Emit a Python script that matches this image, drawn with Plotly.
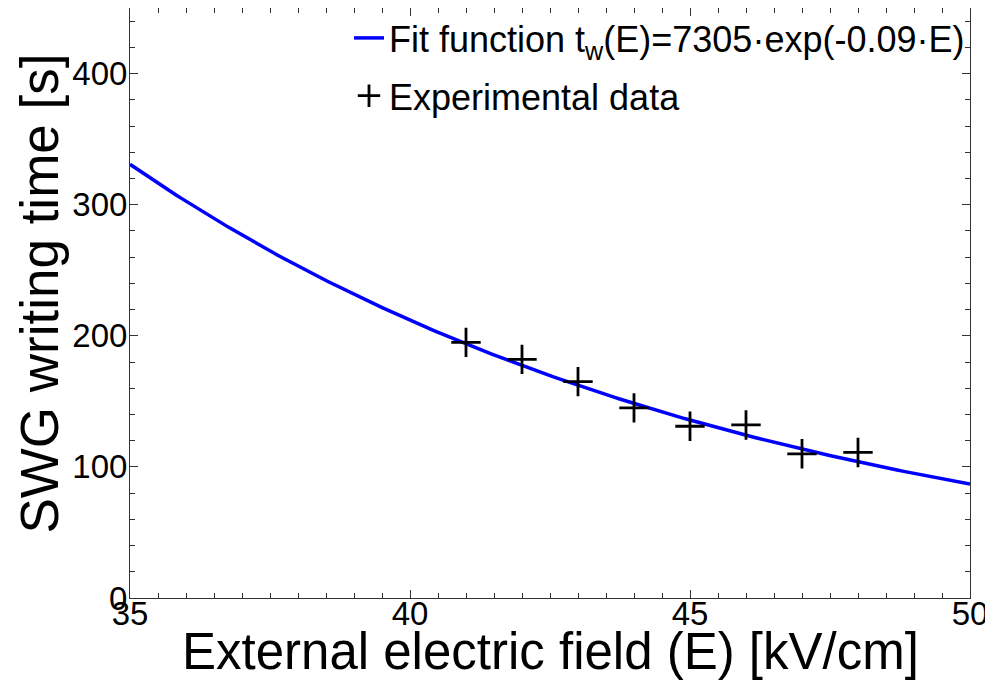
import numpy as np
import plotly.graph_objects as go

# Experimental data
field_kv_cm = [41, 42, 43, 44, 45, 46, 47, 48]
writing_time_s = [195, 182, 165, 145, 131, 132, 110, 111]

# Fit function parameters (as drawn): t_w(E) = A * exp(-k * E)
fit_A = 7480.0
fit_k = 0.0891
fit_range = [35, 50]

x_ticks = [35, 40, 45, 50]
y_ticks = [0, 100, 200, 300, 400]

x_title = "External electric field (E) [kV/cm]"
y_title = "SWG writing time [s]"

E = np.linspace(fit_range[0], fit_range[1], 200)
t_fit = fit_A * np.exp(-fit_k * E)

FONT = "Liberation Sans, Arial, sans-serif"

fig = go.Figure()
fig.add_trace(go.Scatter(
    x=E, y=t_fit, mode="lines",
    line=dict(color="#0000ff", width=3.5),
    name="Fit function t<sub>w</sub>(E)=7305·exp(-0.09·E)",
    legendgroup="fit",
))
fig.add_trace(go.Scatter(
    x=field_kv_cm, y=writing_time_s, mode="markers",
    marker=dict(symbol="cross-thin", size=21, line=dict(color="black", width=2.8), color="black"),
    name="Experimental data",
    legendgroup="data",
))

axis_common = dict(
    showgrid=False, zeroline=False, automargin=False,
    showline=True, linecolor="#333333", linewidth=1, mirror="ticks",
    ticks="inside", ticklen=8, tickcolor="#333333",
    tickfont=dict(family=FONT, size=33, color="black"),
)

fig.update_xaxes(
    range=[35, 50], tickvals=x_ticks, ticktext=[str(v) for v in x_ticks],
    minor=dict(dtick=0.5, ticks="inside", ticklen=5, tickcolor="#333333"),
    ticklabelstandoff=-14,
    **axis_common,
)
fig.update_yaxes(
    range=[0, 450], tickvals=y_ticks, ticktext=[str(v) for v in y_ticks],
    minor=dict(dtick=20, ticks="inside", ticklen=5, tickcolor="#333333"),
    ticklabelstandoff=-5,
    **axis_common,
)

# Axis titles as annotations so they can sit as close to the ticks as in the reference
fig.add_annotation(
    text=x_title, xref="paper", yref="paper", x=0.5, y=0,
    xanchor="center", yanchor="middle", yshift=-53, showarrow=False,
    font=dict(family=FONT, size=51, color="black"),
)
fig.add_annotation(
    text=y_title, xref="paper", yref="paper", x=0, y=0.516,
    xanchor="center", yanchor="middle", xshift=-90, textangle=-90, showarrow=False,
    font=dict(family=FONT, size=53, color="black"),
)

# The page body adds an 8px offset; margins compensate so the plot area lands
# at x 130..970, y 7..598 in the window.
fig.update_layout(
    width=993, height=693,
    margin=dict(l=122, r=31, t=0, b=103),
    paper_bgcolor="white", plot_bgcolor="white",
    showlegend=True,
    legend=dict(
        x=1.0, xanchor="right", y=1.0, yanchor="top",
        bgcolor="rgba(0,0,0,0)", borderwidth=0,
        font=dict(family=FONT, size=36, color="black"),
        itemwidth=30, tracegroupgap=8,
    ),
)

fig.write_html("out.html")
